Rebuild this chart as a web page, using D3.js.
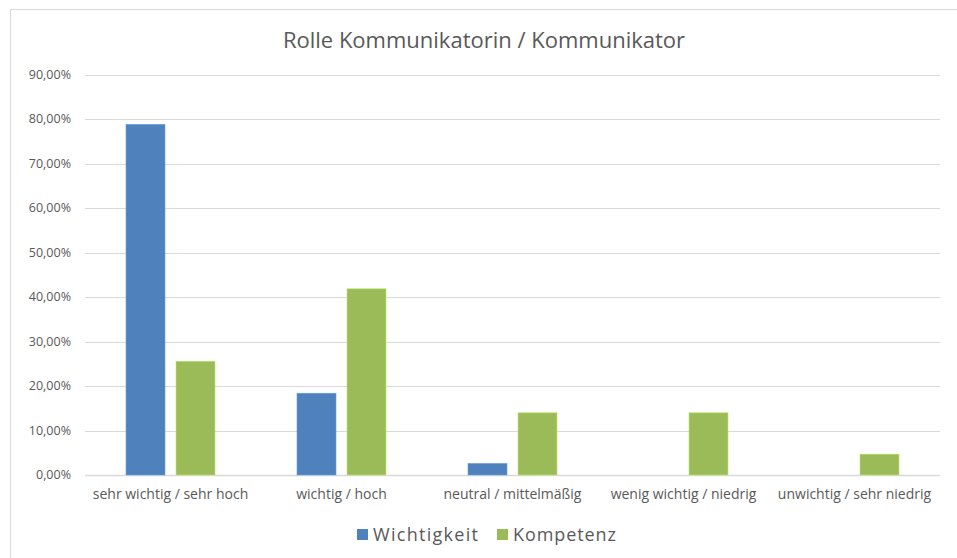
<!DOCTYPE html>
<html>
<head>
<meta charset="utf-8">
<script src="https://cdn.jsdelivr.net/npm/d3@7"></script>
<style>
  body { margin: 0; background: #fff; }
  svg { display: block; }
  text { font-family: "Open Sans", sans-serif; fill: #595959; }
</style>
</head>
<body>
<svg id="chart" width="957" height="558"></svg>
<script>
// chart data
const categories=["sehr wichtig / sehr hoch","wichtig / hoch","neutral / mittelmäßig","wenig wichtig / niedrig","unwichtig / sehr niedrig"];
const series_names=["Wichtigkeit","Kompetenz"];
const wichtigkeit=[0.789,0.184,0.026,0,0];
const kompetenz=[0.256,0.419,0.140,0.140,0.047];
const y_ticks=[0,0.1,0.2,0.3,0.4,0.5,0.6,0.7,0.8,0.9];
const colors=["#4F81BD","#9BBB59"];

const svg=d3.select("#chart");

// outer frame
svg.append("rect")
    .attr("x",10.5)
    .attr("y",9.5)
    .attr("width",960)
    .attr("height",560)
    .attr("fill","#fff")
    .attr("stroke","#d9d9d9")
    .attr("stroke-width",1);

// title
svg.append("text")
    .attr("x",484)
    .attr("y",48)
    .attr("text-anchor","middle")
    .style("font-size","22px")
    .text("Rolle Kommunikatorin / Kommunikator");

const margin={left:85,right:940,top:75,bottom:475};
const y=d3.scaleLinear().domain([0,0.9]).range([margin.bottom,margin.top]);
const x0=d3.scaleBand().domain(categories).range([margin.left,margin.right]).paddingInner(0).paddingOuter(0);
const x1=d3.scaleBand().domain(series_names).range([x0.bandwidth()/2-44.5,x0.bandwidth()/2+44.5]).paddingInner(0.22);

// gridlines
const fmt=v=>d3.format(".2f")(v*100).replace(".",",")+"%";
svg.append("g")
    .selectAll("line")
    .data(y_ticks)
    .join("line")
    .attr("x1",margin.left)
    .attr("x2",margin.right)
    .attr("y1",d=>Math.round(y(d))+0.5)
    .attr("y2",d=>Math.round(y(d))+0.5)
    .attr("stroke","#d9d9d9")
    .attr("stroke-width",d=>d===0?1.5:1);

// y tick labels
svg.append("g")
    .selectAll("text")
    .data(y_ticks)
    .join("text")
    .attr("x",71)
    .attr("y",d=>y(d)+4)
    .attr("text-anchor","end")
    .style("font-size","12.5px")
    .text(fmt);

// bars
const all_values=[wichtigkeit,kompetenz];
series_names.forEach((name,si)=>{
    svg.append("g")
        .selectAll("rect")
        .data(categories)
        .join("rect")
        .attr("x",d=>x0(d)+x1(name))
        .attr("y",(d,i)=>y(all_values[si][i]))
        .attr("width",x1.bandwidth())
        .attr("height",(d,i)=>y(0)-y(all_values[si][i]))
        .attr("fill",colors[si])
        .attr("stroke",d3.color(colors[si]).brighter(0.6))
        .attr("stroke-width",0.6);
});

// category labels
svg.append("g")
    .selectAll("text")
    .data(categories)
    .join("text")
    .attr("x",d=>x0(d)+x0.bandwidth()/2)
    .attr("y",499)
    .attr("text-anchor","middle")
    .style("font-size","14px")
    .text(d=>d);

// legend
const legend_x=[357,497];
const legend_w=[105,103];
series_names.forEach((name,si)=>{
    svg.append("rect")
        .attr("x",legend_x[si])
        .attr("y",529)
        .attr("width",11)
        .attr("height",11)
        .attr("fill",colors[si]);
    svg.append("text")
        .attr("x",legend_x[si]+16)
        .attr("y",541)
        .attr("textLength",legend_w[si])
        .style("font-size","18px")
        .text(name);
});
</script>
</body>
</html>
